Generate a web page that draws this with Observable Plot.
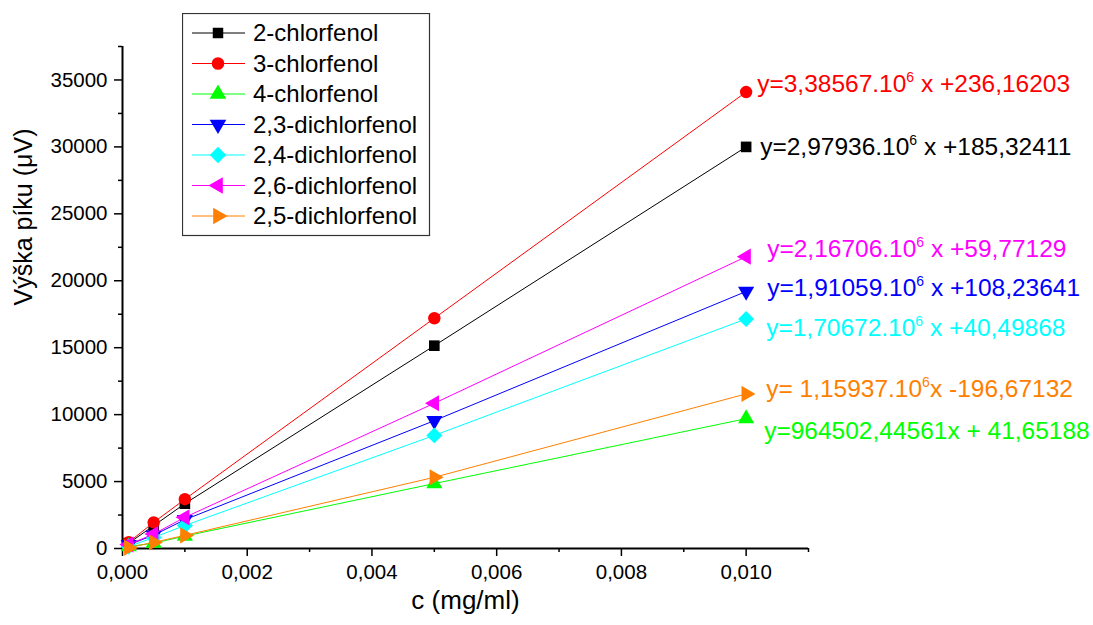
<!DOCTYPE html>
<html>
<head>
<meta charset="utf-8">
<script src="https://cdn.jsdelivr.net/npm/d3@7"></script>
<script src="https://cdn.jsdelivr.net/npm/@observablehq/plot@0.6"></script>
<style>
  body { margin: 0; background: #fff; }
  #chart { position: relative; width: 1093px; height: 625px; font-family: "Liberation Sans", Arial, sans-serif; }
  #legend { position: absolute; left: 182px; top: 13px; }
</style>
</head>
<body>
<div id="chart"></div>
<script>
// Calibration of chlorophenols: peak height vs. concentration
const concentrations = [0.0001, 0.0005, 0.001, 0.005, 0.01]; // mg/ml

const seriesNames = [
  "2-chlorfenol", "3-chlorfenol", "4-chlorfenol",
  "2,3-dichlorfenol", "2,4-dichlorfenol", "2,6-dichlorfenol", "2,5-dichlorfenol"
];

// peak heights (µV) for each series, one value per concentration
const h2chlor    = [400, 1700, 3350, 15150, 30000];
const h3chlor    = [470, 1950, 3680, 17200, 34100];
const h4chlor    = [150, 400, 930, 4850, 9700];
const h23dichlor = [280, 1000, 2150, 9550, 19200];
const h24dichlor = [150, 820, 1720, 8450, 17150];
const h26dichlor = [300, 1080, 2330, 10850, 21800];
const h25dichlor = [60, 460, 980, 5320, 11550];
const peakHeights = [h2chlor, h3chlor, h4chlor, h23dichlor, h24dichlor, h26dichlor, h25dichlor];

// regression equations written next to the last point of each series
const equations = [
  "y=2,97936.10^6 x +185,32411",
  "y=3,38567.10^6 x +236,16203",
  "y=964502,44561x + 41,65188",
  "y=1,91059.10^6 x +108,23641",
  "y=1,70672.10^6 x +40,49868",
  "y=2,16706.10^6 x +59,77129",
  "y= 1,15937.10^6x -196,67132"
];

const yTicks = [0, 5000, 10000, 15000, 20000, 25000, 30000, 35000];
const yMinorTicks = [2500, 7500, 12500, 17500, 22500, 27500, 32500, 37500];
const xTicks = [0, 0.002, 0.004, 0.006, 0.008, 0.010];
const xMinorTicks = [0.001, 0.003, 0.005, 0.007, 0.009, 0.011];

// styling
const font = '"Liberation Sans", Arial, sans-serif';
const seriesColors = ["#000000", "#ff0000", "#00ff00", "#0000ff", "#00ffff", "#ff00ff", "#ff8000"];
const seriesSymbols = ["square", "circle", "triangle", "triangle", "diamond2", "triangle", "triangle"];
const symbolRotation = [0, 0, 0, 180, 0, -90, 90];
const symbolRadius = [6, 6.2, 6, 6, 7.2, 6, 6];
// [dx, dy] of each equation relative to its series' last point
const labelOffsets = [[14, 0], [11, -8], [18, 13], [21, -3], [20, 9], [21, -8], [20, -5]];

const rows = seriesNames.flatMap((name, i) =>
  concentrations.map((c, j) => ({ name, c, h: peakHeights[i][j], rot: symbolRotation[i] }))
);

const commaFormat = d => d3.format(".3f")(d).replace(".", ",");

const seriesMarks = seriesNames.flatMap((name, i) => {
  const data = rows.filter(d => d.name === name);
  const last = data[data.length - 1];
  return [
    Plot.line(data, { x: "c", y: "h", stroke: "name", strokeWidth: 1 }),
    Plot.dot(data, { x: "c", y: "h", fill: "name", symbol: "name", rotate: "rot", r: symbolRadius[i], stroke: "none" }),
    Plot.text([last], {
      x: "c", y: "h", text: () => equations[i], fill: seriesColors[i],
      textAnchor: "start", dx: labelOffsets[i][0], dy: labelOffsets[i][1], fontSize: 24.5
    })
  ];
});

const plot = Plot.plot({
  width: 1093,
  height: 625,
  marginLeft: 122,
  marginRight: 285,
  marginTop: 46,
  marginBottom: 77,
  style: { fontFamily: font, fontSize: "20px", color: "#000", background: "transparent", overflow: "visible" },
  x: { domain: [0, 0.011] },
  y: { domain: [0, 37500] },
  color: { domain: seriesNames, range: seriesColors },
  symbol: { domain: seriesNames, range: seriesSymbols },
  marks: [
    Plot.axisX({ ticks: xTicks, tickFormat: commaFormat, tickSize: 8, tickPadding: 8, strokeWidth: 1.5, fontSize: 20.5, label: null }),
    Plot.axisX({ ticks: xMinorTicks, tickSize: 4, strokeWidth: 1.5, text: null, label: null }),
    Plot.axisY({ ticks: yTicks, tickFormat: d => String(d), tickSize: 8, tickPadding: 7, strokeWidth: 1.5, fontSize: 20.5, label: null }),
    Plot.axisY({ ticks: yMinorTicks, tickSize: 4, strokeWidth: 1.5, text: null, label: null }),
    Plot.ruleX([0], { strokeWidth: 2 }),
    Plot.ruleY([0], { strokeWidth: 2 }),
    Plot.text(["Výška píku (μV)"], { frameAnchor: "left", rotate: -90, dx: -99, dy: 8, fontSize: 25 }),
    Plot.text(["c (mg/ml)"], { frameAnchor: "bottom", dy: 60, fontSize: 26 }),
    ...seriesMarks
  ]
});

// superscript exponent in the regression equations
d3.select(plot).selectAll("text").each(function () {
  const t = this.textContent;
  if (!t.includes("^6")) return;
  const [a, b] = t.split("^6");
  const sel = d3.select(this);
  sel.text(null);
  sel.append("tspan").text(a);
  sel.append("tspan").attr("dy", "-10px").attr("font-size", "14px").text("6");
  sel.append("tspan").attr("dy", "10px").text(b);
});

const chart = document.getElementById("chart");
chart.appendChild(plot);

// legend box
const symbolTypes = { square: d3.symbolSquare, circle: d3.symbolCircle, triangle: d3.symbolTriangle, diamond2: d3.symbolDiamond2 };
const legendSizes = { square: 110, circle: 125, triangle: 120, diamond2: 170 };
const legend = d3.create("svg").attr("id", "legend").attr("width", 250).attr("height", 225);
legend.append("rect").attr("x", 0.5).attr("y", 0.5).attr("width", 247).attr("height", 222)
  .attr("fill", "#fff").attr("stroke", "#333").attr("stroke-width", 1.2);
seriesNames.forEach((name, i) => {
  const g = legend.append("g").attr("transform", `translate(0,${20 + i * 30.5})`);
  g.append("line").attr("x1", 10).attr("x2", 63).attr("stroke", seriesColors[i]).attr("stroke-width", 1);
  g.append("path").attr("d", d3.symbol(symbolTypes[seriesSymbols[i]], legendSizes[seriesSymbols[i]])())
    .attr("transform", `translate(36,0) rotate(${symbolRotation[i]})`).attr("fill", seriesColors[i]);
  g.append("text").attr("x", 71).attr("dy", "0.35em").attr("font-size", 24)
    .attr("font-family", font).text(name);
});
chart.appendChild(legend.node());
</script>
</body>
</html>
